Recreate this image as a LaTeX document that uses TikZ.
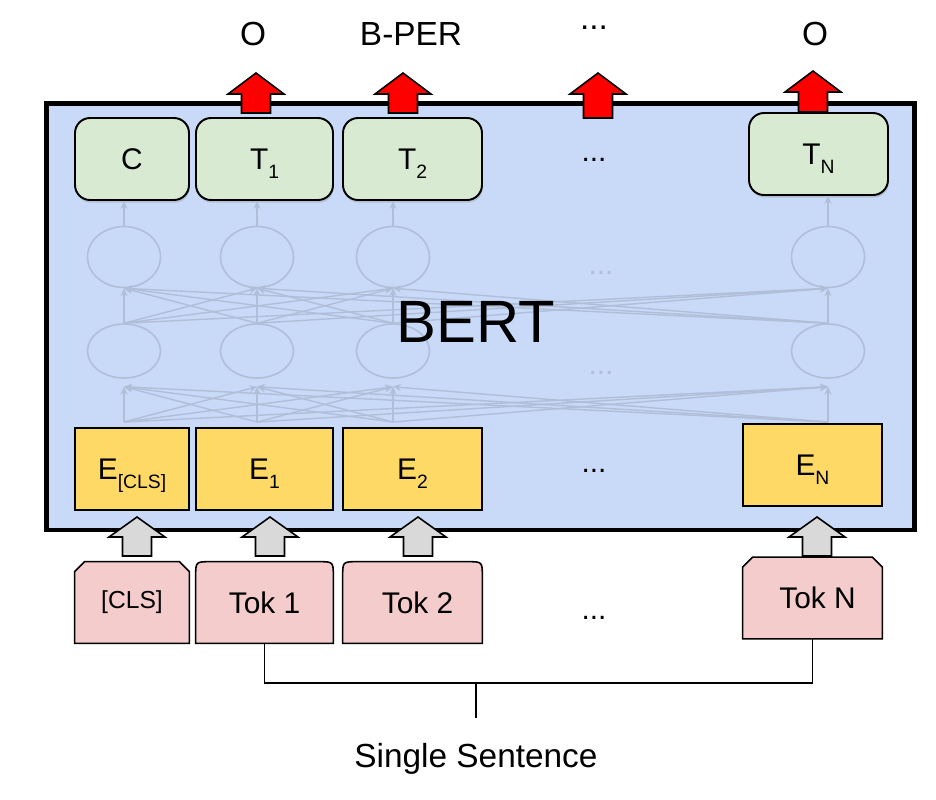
\documentclass[tikz,border=0pt]{standalone}
\usepackage{fontspec}
\setmainfont{Liberation Sans}
\usetikzlibrary{shapes.geometric,shadows,arrows.meta}

\definecolor{bertblue}{HTML}{C9DAF8}
\definecolor{outgreen}{HTML}{D9EAD3}
\definecolor{embyellow}{HTML}{FFD966}
\definecolor{tokpink}{HTML}{F4CCCC}
\definecolor{liftgray}{HTML}{D9D9D9}
\definecolor{fadeline}{RGB}{176,190,216}

\pgfdeclarelayer{back}
\pgfsetlayers{back,main}

\newcommand{\lowsub}[1]{\raisebox{-5.5pt}[0pt][0pt]{\fontsize{11}{11}\selectfont #1}}
% block arrow: style, x, tip, head base, foot
\newcommand{\blockup}[5]{%
  \filldraw[#1] (#2-14.5,#5) -- (#2-14.5,#4) -- (#2-28,#4) -- (#2,#3) -- (#2+28,#4) -- (#2+14.5,#4) -- (#2+14.5,#5) -- cycle;}

\begin{document}
\begin{tikzpicture}[x=0.02cm,y=-0.02cm,
	bertbox/.style={draw,line width=2.8pt,fill=bertblue,minimum width=17.37cm,minimum height=8.54cm},
	outbox/.style={draw,line width=1.1pt,rounded corners=0.3cm,fill=outgreen,
		drop shadow={shadow xshift=0.5pt,shadow yshift=-1.5pt,opacity=0.3},
		minimum height=1.64cm,font=\fontsize{17}{20}\selectfont},
	embbox/.style={draw,line width=0.9pt,fill=embyellow,minimum height=1.64cm,font=\fontsize{17}{20}\selectfont},
	tokbox/.style={minimum height=1.62cm,font=\fontsize{17}{20}\selectfont},
	tokline/.style={draw,line width=0.9pt,fill=tokpink},
	neuron/.style={ellipse,draw=fadeline,line width=0.9pt,minimum width=1.46cm},
	fadearrow/.style={draw=fadeline,line width=0.8pt,-{Stealth[length=4.5pt,width=4pt]}},
	outlabel/.style={font=\fontsize{19}{22}\selectfont},
	dotlabel/.style={font=\fontsize{17}{20}\selectfont,anchor=base},
	redlift/.style={fill=red,draw=black,line width=0.9pt},
	graylift/.style={fill=liftgray,draw=black,line width=0.9pt}]
	\useasboundingbox (0,0) rectangle (936,799);

	\node[bertbox] (bert) at (480.75,316.5) {};

	% faded network inside
	\foreach \i/\x in {1/124,2/257,3/393,4/828} {
		\node[neuron,minimum height=1.22cm] (u\i) at (\x,257) {};
		\node[neuron,minimum height=1.08cm] (l\i) at (\x,351) {};
		\coordinate (b\i) at (\x,422);
	}
	\foreach \i in {1,...,4}
		\foreach \j in {1,...,4} {
			\draw[fadearrow] (l\i.north) -- (u\j.south);
			\draw[fadearrow] (b\i) -- ([yshift=-0.16cm]l\j.south);
		}
	\node[dotlabel,text=fadeline] (fdots1) at (601,274) {...};
	\node[dotlabel,text=fadeline] (fdots2) at (601,374) {...};

	\node[font=\fontsize{34}{40}\selectfont] (berttext) at (476,322) {BERT};

	% outputs
	\node[outbox,minimum width=2.28cm] (c) at (132,159) {C};
	\node[outbox,minimum width=2.74cm] (t1) at (264.5,159) {T\lowsub{1}};
	\node[outbox,minimum width=2.78cm] (t2) at (412.5,159) {T\lowsub{2}};
	\node[outbox,minimum width=2.78cm] (tn) at (818.5,154) {T\lowsub{N}};
	\node[dotlabel] (tdots) at (594,161) {...};
	\foreach \i/\t in {1/c,2/t1,3/t2,4/tn}
		\draw[fadearrow] (u\i.north) -- (u\i.north |- \t.south);

	% embeddings
	\node[embbox,minimum width=2.28cm] (ecls) at (132,469) {E\lowsub{[CLS]}};
	\node[embbox,minimum width=2.74cm] (e1) at (264.5,469) {E\lowsub{1}};
	\node[embbox,minimum width=2.78cm] (e2) at (412.5,469) {E\lowsub{2}};
	\node[embbox,minimum width=2.78cm] (en) at (812.5,465) {E\lowsub{N}};
	\node[dotlabel] (edots) at (594,472) {...};

	% tokens
	\node[tokbox,minimum width=2.28cm,font=\fontsize{14}{16}\selectfont] (cls) at (132,602.5) {[CLS]};
	\node[tokbox,minimum width=2.74cm] (tok1) at (264.5,602.5) {Tok 1};
	\node[tokbox,minimum width=2.78cm] (tok2) at (412.5,602.5) {\hspace{0.2cm}Tok 2};
	\node[tokbox,minimum width=2.78cm] (tokn) at (812.5,598) {\hspace{0.2cm}Tok N};
	\node[dotlabel] (kdots) at (594,619) {...};
	\begin{pgfonlayer}{back}
		\foreach \t in {cls,tokn}
			\filldraw[tokline] (\t.south west) -- ([yshift=-0.2cm]\t.north west) -- ([xshift=0.2cm]\t.north west)
				-- ([xshift=-0.2cm]\t.north east) -- ([yshift=-0.2cm]\t.north east) -- (\t.south east) -- cycle;
		\foreach \t in {tok1,tok2}
			\filldraw[tokline] (\t.south west) -- ([yshift=-0.3cm]\t.north west) .. controls (\t.north west) .. ([xshift=0.3cm]\t.north west)
				-- ([xshift=-0.3cm]\t.north east) .. controls (\t.north east) .. ([yshift=-0.3cm]\t.north east) -- (\t.south east) -- cycle;
	\end{pgfonlayer}

	% lifts
	\blockup{redlift}{256}{73}{94}{113}
	\blockup{redlift}{403}{73}{94}{113}
	\blockup{redlift}{598}{73}{94}{118}
	\blockup{redlift}{813}{71}{92}{112}
	\blockup{graylift}{137}{517}{537}{556}
	\blockup{graylift}{270}{517}{537}{556}
	\blockup{graylift}{418}{517}{537}{556}
	\blockup{graylift}{817}{517}{537}{556}

	% labels on top
	\node[outlabel,anchor=base] (o1) at (253,45) {O};
	\node[outlabel,anchor=base] (bper) at (411,45) {B-PER};
	\node[outlabel,anchor=base] (odots) at (594,29) {...};
	\node[outlabel,anchor=base] (on) at (815,45) {O};

	% sentence
	\coordinate (join) at (476,683);
	\coordinate (stem) at (476,718);
	\draw[line width=0.9pt] (tok1.south) |- (join) -| (tokn.south);
	\draw[line width=0.9pt] (join) -- (stem);
	\node[outlabel,anchor=base] (sentence) at (476,767) {Single Sentence};
\end{tikzpicture}
\end{document}
